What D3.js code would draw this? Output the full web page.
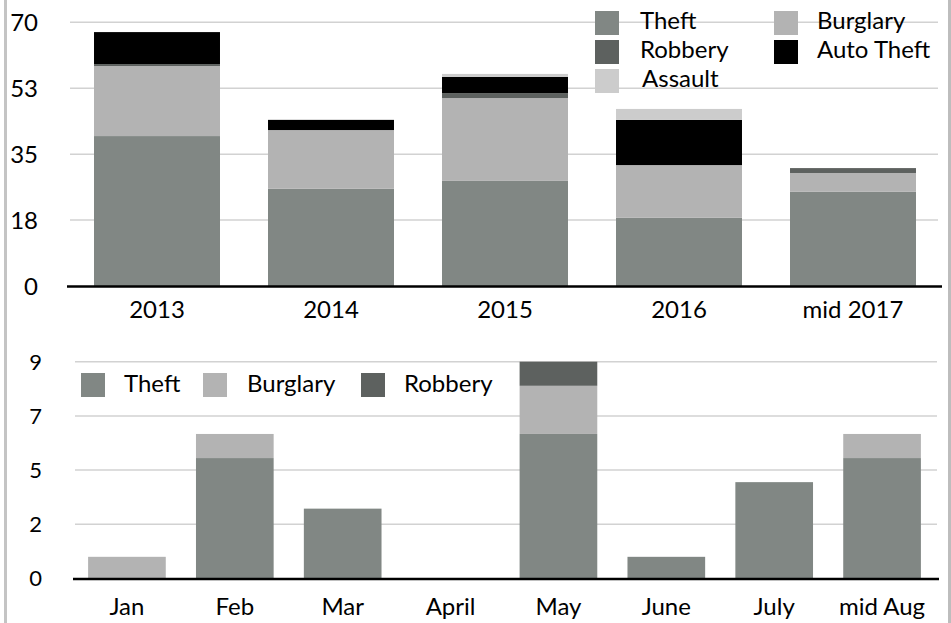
<!DOCTYPE html>
<html>
<head>
<meta charset="utf-8">
<script src="https://cdn.jsdelivr.net/npm/d3@7"></script>
<style>
  html, body { margin: 0; padding: 0; background: #fff; }
  svg { display: block; font-family: Lato, "Open Sans", sans-serif; }
</style>
</head>
<body>
<svg id="chart" width="951" height="623"></svg>
<script>
// ---- Data: yearly chart ----
const years = ["2013", "2014", "2015", "2016", "mid 2017"];
const theftYear = [39.8, 25.8, 27.9, 18.1, 25.0];
const burglaryYear = [18.6, 15.6, 22.0, 14.0, 5.0];
const robberyYear = [0.5, 0, 1.3, 0, 1.3];
const autoTheftYear = [8.5, 2.7, 4.3, 12.0, 0];
const assaultYear = [0, 0, 0.8, 2.9, 0];
const yearTicks = [0, 17.5, 35, 52.5, 70];
const yearTickLabels = ["0", "18", "35", "53", "70"];

// ---- Data: monthly chart ----
const months = ["Jan", "Feb", "Mar", "April", "May", "June", "July", "mid Aug"];
const theftMonth = [0, 5, 2.9, 0, 6, 0.9, 4, 5];
const burglaryMonth = [0.9, 1, 0, 0, 2, 0, 0, 1];
const robberyMonth = [0, 0, 0, 0, 1, 0, 0, 0];
const monthTicks = [0, 2.25, 4.5, 6.75, 9];
const monthTickLabels = ["0", "2", "5", "7", "9"];

const colors = {
  "Theft": "#818784",
  "Burglary": "#b3b3b3",
  "Robbery": "#5d615f",
  "Auto Theft": "#000000",
  "Assault": "#cccccc"
};

const svg = d3.select("#chart");

// frame borders
svg.append("rect").attr("x", 4).attr("y", 0).attr("width", 3).attr("height", 623).attr("fill", "#c4c4c4");
svg.append("rect").attr("x", 948).attr("y", 0).attr("width", 3).attr("height", 623).attr("fill", "#bdbdbd");

function drawChart(cfg) {
  const g = svg.append("g");
  const x = d3.scaleBand().domain(cfg.cats).range(cfg.xRange).paddingInner(cfg.pad).paddingOuter(cfg.pad / 2);
  const y = d3.scaleLinear().domain(cfg.yDomain).range(cfg.yRange);

  // gridlines
  g.selectAll("line.grid").data(cfg.ticks.filter(t => t > 0)).join("line")
    .attr("x1", cfg.gridX[0]).attr("x2", cfg.gridX[1])
    .attr("y1", d => y(d)).attr("y2", d => y(d))
    .attr("stroke", "#d2d2d2").attr("stroke-width", 1.5);

  // y tick labels
  g.selectAll("text.ytick").data(cfg.ticks).join("text")
    .attr("x", cfg.tickX).attr("y", d => y(d)).attr("dy", "0.36em")
    .attr("text-anchor", "end").attr("font-size", cfg.tickSize).attr("fill", "#000")
    .text((d, i) => cfg.tickLabels[i]);

  // stacked bars
  const rows = cfg.cats.map((c, i) => {
    const o = { cat: c };
    cfg.keys.forEach(k => { o[k] = cfg.series[k][i]; });
    return o;
  });
  const stacked = d3.stack().keys(cfg.keys)(rows);
  g.selectAll("g.layer").data(stacked).join("g")
    .attr("fill", d => colors[d.key])
    .selectAll("rect").data(d => d).join("rect")
    .attr("x", d => x(d.data.cat))
    .attr("width", x.bandwidth())
    .attr("y", d => y(d[1]))
    .attr("height", d => Math.max(0, y(d[0]) - y(d[1])));

  // x axis line
  g.append("line")
    .attr("x1", cfg.axisX[0]).attr("x2", cfg.axisX[1])
    .attr("y1", y(0) + 0.5).attr("y2", y(0) + 0.5)
    .attr("stroke", "#000").attr("stroke-width", 2.5);

  // x labels
  g.selectAll("text.xlab").data(cfg.cats).join("text")
    .attr("x", d => x(d) + x.bandwidth() / 2).attr("y", cfg.xLabelY)
    .attr("text-anchor", "middle").attr("font-size", 24).attr("fill", "#000")
    .text(d => d);

  // legend
  cfg.legend.forEach(item => {
    g.append("rect").attr("x", item.x).attr("y", item.y).attr("width", 24).attr("height", 24)
      .attr("fill", colors[item.key]);
    g.append("text").attr("x", item.tx).attr("y", item.y + cfg.legendBase)
      .attr("font-size", 24).attr("fill", "#000").text(item.key);
  });
}

drawChart({
  cats: years,
  keys: ["Theft", "Burglary", "Robbery", "Auto Theft", "Assault"],
  series: { "Theft": theftYear, "Burglary": burglaryYear, "Robbery": robberyYear, "Auto Theft": autoTheftYear, "Assault": assaultYear },
  xRange: [70, 940], pad: 0.276,
  yDomain: [0, 70], yRange: [286, 22.3],
  ticks: yearTicks, tickLabels: yearTickLabels, tickX: 38, tickSize: 24,
  gridX: [70, 938], axisX: [67, 942], xLabelY: 318,
  legendBase: 18,
  legend: [
    { key: "Theft", x: 595, y: 11, tx: 640 },
    { key: "Robbery", x: 595, y: 40, tx: 640 },
    { key: "Assault", x: 595, y: 69, tx: 642 },
    { key: "Burglary", x: 774, y: 11, tx: 817 },
    { key: "Auto Theft", x: 774, y: 40, tx: 817 }
  ]
});

drawChart({
  cats: months,
  keys: ["Theft", "Burglary", "Robbery"],
  series: { "Theft": theftMonth, "Burglary": burglaryMonth, "Robbery": robberyMonth },
  xRange: [73, 936], pad: 0.28,
  yDomain: [0, 9], yRange: [578.5, 361.7],
  ticks: monthTicks, tickLabels: monthTickLabels, tickX: 42, tickSize: 22,
  gridX: [75, 937], axisX: [73, 939], xLabelY: 615,
  legendBase: 19,
  legend: [
    { key: "Theft", x: 81, y: 373, tx: 124 },
    { key: "Burglary", x: 203, y: 373, tx: 247 },
    { key: "Robbery", x: 361, y: 373, tx: 404 }
  ]
});
</script>
</body>
</html>
